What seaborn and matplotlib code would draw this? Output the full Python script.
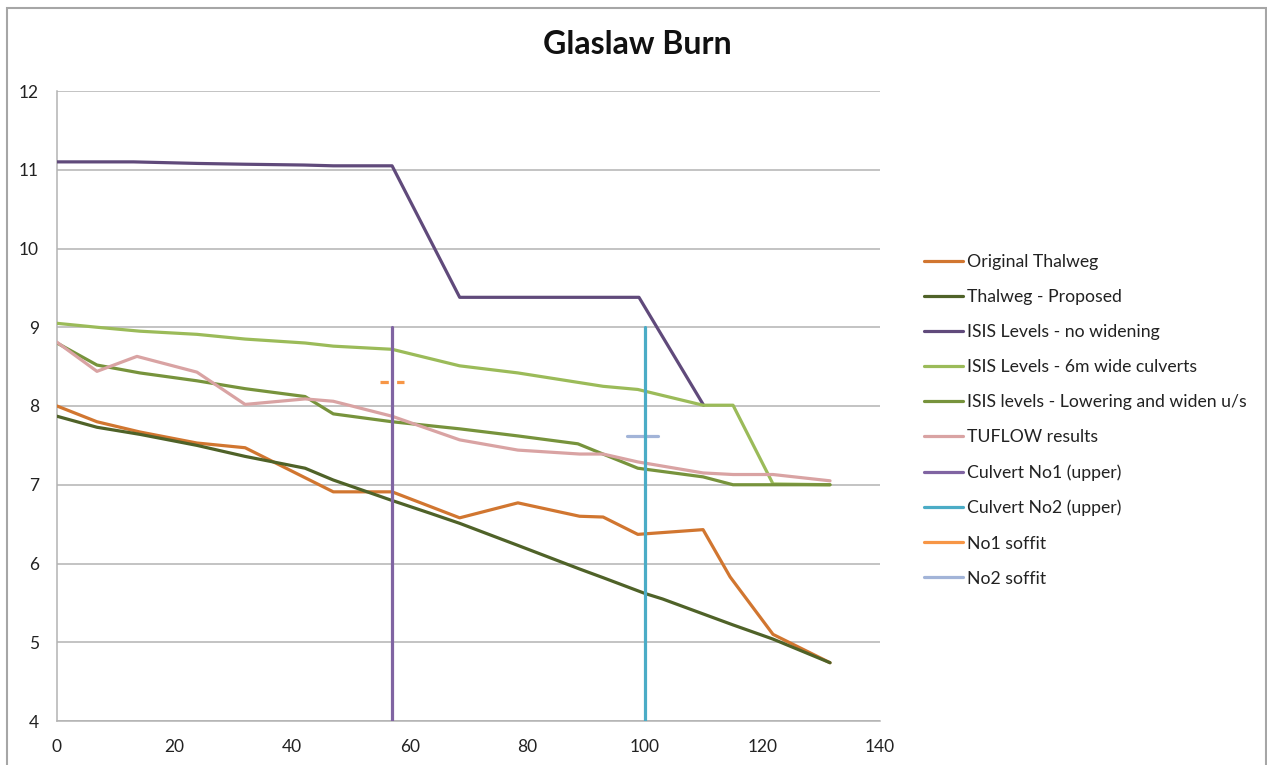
import matplotlib
matplotlib.use("Agg")
import matplotlib.pyplot as plt
import seaborn as sns
import pandas as pd
from matplotlib.patches import Rectangle

# ---- data ----
orig_x = [0, 6.8, 14.1, 23.8, 32, 47, 57, 68.5, 78.4, 88.9, 92.9, 98.8, 109.9, 114.5, 121.8, 131.5]
orig_y = [8.0, 7.80, 7.67, 7.53, 7.47, 6.91, 6.91, 6.58, 6.77, 6.60, 6.59, 6.37, 6.43, 5.83, 5.10, 4.74]

prop_x = [0, 6.8, 14.1, 23.8, 32, 42.2, 47, 57, 63.4, 68.5, 78.4, 88.9, 92.9, 100, 103, 109.9, 115, 121.8, 131.5]
prop_y = [7.87, 7.73, 7.64, 7.50, 7.36, 7.21, 7.06, 6.80, 6.64, 6.51, 6.23, 5.93, 5.82, 5.62, 5.55, 5.36, 5.22, 5.04, 4.74]

nowid_x = [0, 13, 24, 32, 42, 47, 57, 68.5, 78, 89, 99, 110]
nowid_y = [11.1, 11.1, 11.08, 11.07, 11.06, 11.05, 11.05, 9.38, 9.38, 9.38, 9.38, 8.01]

w6_x = [0, 6.8, 14.1, 23.8, 32, 42.2, 47, 57, 68.5, 78.4, 92.9, 98.8, 109.9, 115, 121.8, 131.5]
w6_y = [9.05, 9.0, 8.95, 8.91, 8.85, 8.80, 8.76, 8.72, 8.51, 8.42, 8.25, 8.21, 8.01, 8.01, 7.01, 7.0]

low_x = [0, 6.8, 14.1, 23.8, 32, 42.2, 47, 57, 68.5, 78.4, 88.6, 98.8, 109.9, 115, 121.8, 131.5]
low_y = [8.8, 8.52, 8.42, 8.32, 8.22, 8.12, 7.90, 7.80, 7.71, 7.62, 7.52, 7.21, 7.10, 7.0, 7.0, 7.0]

tuf_x = [0, 6.8, 13.6, 23.8, 32, 42.2, 47, 57, 68.5, 78.4, 88.9, 92.9, 98.8, 109.9, 115, 121.8, 131.5]
tuf_y = [8.81, 8.44, 8.63, 8.43, 8.02, 8.09, 8.06, 7.87, 7.57, 7.44, 7.39, 7.39, 7.29, 7.15, 7.13, 7.13, 7.05]

culv1_x = [57, 57]
culv1_y = [4, 9]
culv2_x = [100, 100]
culv2_y = [4, 9]
soff1_x = [55, 59]
soff1_y = [8.3, 8.3]
soff2_x = [97, 102.2]
soff2_y = [7.62, 7.62]

labels = ["Original Thalweg", "Thalweg - Proposed", "ISIS Levels - no widening",
          "ISIS Levels - 6m wide culverts", "ISIS levels - Lowering and widen u/s",
          "TUFLOW results", "Culvert No1 (upper)", "Culvert No2 (upper)",
          "No1 soffit", "No2 soffit"]
colors = ["#D17630", "#4F6228", "#604A7B", "#9BBB59", "#77933C",
          "#D9A3A3", "#8064A2", "#4BACC6", "#F79646", "#A2B4D8"]

x_ticks = [0, 20, 40, 60, 80, 100, 120, 140]
y_ticks = [4, 5, 6, 7, 8, 9, 10, 11, 12]

sns.set_style("white")
plt.rcParams['font.family'] = ['Lato', 'DejaVu Sans']

fig = plt.figure(figsize=(12.67, 7.65), dpi=100)
ax = fig.add_axes([57/1267, 1-721/765, (880-57)/1267, (721-91)/765])

series = [(orig_x, orig_y), (prop_x, prop_y), (nowid_x, nowid_y), (w6_x, w6_y),
          (low_x, low_y), (tuf_x, tuf_y), (culv1_x, culv1_y), (culv2_x, culv2_y),
          (soff1_x, soff1_y), (soff2_x, soff2_y)]
zorders = [3, 3, 3, 3, 3, 3, 5, 5, 4, 4]
for (xs, ys), lab, c, z in zip(series, labels, colors, zorders):
    df = pd.DataFrame({"x": xs, "y": ys})
    ls = (0, (2.6, 2.6)) if lab == "No1 soffit" else "-"
    sns.lineplot(data=df, x="x", y="y", ax=ax, color=c, lw=2.3, label=lab,
                 sort=False, estimator=None, zorder=z, linestyle=ls)

ax.set_xlim(0, 140)
ax.set_ylim(4, 12)
ax.set_xticks(x_ticks)
ax.set_yticks(y_ticks)
ax.set_xlabel("")
ax.set_ylabel("")
ax.grid(axis="y", color="#B3B3B3", lw=1.1)
ax.grid(axis="x", visible=False)
for s in ["top", "right"]:
    ax.spines[s].set_visible(False)
for s in ["left", "bottom"]:
    ax.spines[s].set_color("#B3B3B3")
    ax.spines[s].set_linewidth(1.1)
ax.tick_params(axis="both", colors="#B3B3B3", labelcolor="#222222",
               labelsize=12.5, length=5, width=1.1, direction="out")
ax.tick_params(axis="x", pad=8)
ax.tick_params(axis="y", pad=8)

fig.text(637/1267, 1-45/765, "Glaslaw Burn", ha="center", va="center",
         fontsize=23, fontweight="bold", color="#111111")

leg = ax.legend(loc="upper left", bbox_to_anchor=(924/1267, 1-254/765),
                bbox_transform=fig.transFigure, frameon=False, fontsize=12.7,
                handlelength=2.2, handletextpad=0.25, labelspacing=1.08,
                borderpad=0, borderaxespad=0)
for t in leg.get_texts():
    t.set_color("#222222")
for ln in leg.get_lines():
    ln.set_linestyle("-")

fig.patches.append(Rectangle((7/1267, -0.05), (1266-7)/1267, 1.05 - 8/765,
                             transform=fig.transFigure, fill=False,
                             edgecolor="#A6A6A6", lw=1.5, zorder=0))

fig.savefig("out.png", dpi=100)
